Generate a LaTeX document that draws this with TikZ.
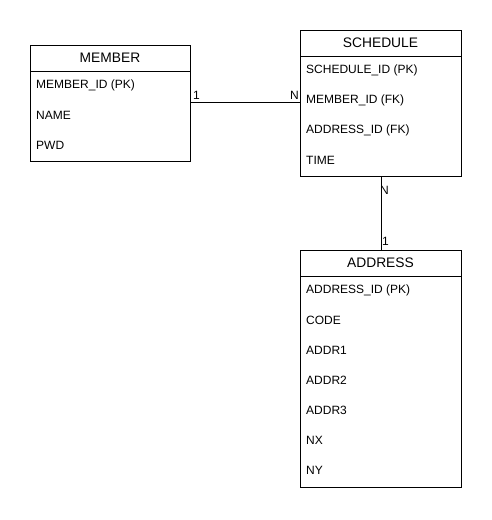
\documentclass[tikz,border=0pt]{standalone}
\usepackage{fontspec}
\setmainfont{Liberation Sans}
\begin{document}
\begin{tikzpicture}[x=1pt,y=-1pt,
  ent/.style={draw=black,line width=0.9pt,fill=white},
  hdr/.style={font=\fontsize{13.8}{16}\selectfont,anchor=center},
  row/.style={font=\fontsize{12}{14}\selectfont,anchor=west,inner sep=0pt},
  lbl/.style={font=\fontsize{12}{14}\selectfont,inner sep=0pt},
  conn/.style={draw=black,line width=0.9pt}]
\useasboundingbox (0,0) rectangle (491,520);
% MEMBER
\draw[ent] (30,45) rectangle (190,161);
\draw[line width=0.9pt] (30,71) -- (190,71);
\node[hdr] (mh) at (110,58) {MEMBER};
\node[row] (m1) at (36,85) {MEMBER\_ID (PK)};
\node[row] (m2) at (36,115) {NAME};
\node[row] (m3) at (36,145) {PWD};
\coordinate (mR) at (190,102);
% SCHEDULE
\draw[ent] (300,30) rectangle (461,176);
\draw[line width=0.9pt] (300,56) -- (461,56);
\node[hdr] (sh) at (380.5,43) {SCHEDULE};
\node[row] (s1) at (306,70) {SCHEDULE\_ID (PK)};
\node[row] (s2) at (306,100) {MEMBER\_ID (FK)};
\node[row] (s3) at (306,130) {ADDRESS\_ID (FK)};
\node[row] (s4) at (306,160) {TIME};
\coordinate (sL) at (300,102);
\coordinate (sB) at (381,176);
% ADDRESS
\draw[ent] (300,250) rectangle (461,487);
\draw[line width=0.9pt] (300,276) -- (461,276);
\node[hdr] (ah) at (380.5,263) {ADDRESS};
\node[row] (a1) at (306,290) {ADDRESS\_ID (PK)};
\node[row] (a2) at (306,320) {CODE};
\node[row] (a3) at (306,350) {ADDR1};
\node[row] (a4) at (306,380) {ADDR2};
\node[row] (a5) at (306,410) {ADDR3};
\node[row] (a6) at (306,440) {NX};
\node[row] (a7) at (306,470) {NY};
\coordinate (aT) at (381,250);
% connectors
\draw[conn] (mR) -- (sL);
\draw[conn] (sB) -- (aT);
\node[lbl,anchor=west] (l1) at (193,95) {1};
\node[lbl,anchor=east] (l2) at (299,95) {N};
\node[lbl,anchor=west] (l3) at (380,190) {N};
\node[lbl,anchor=west] (l4) at (382,241) {1};
\end{tikzpicture}
\end{document}
